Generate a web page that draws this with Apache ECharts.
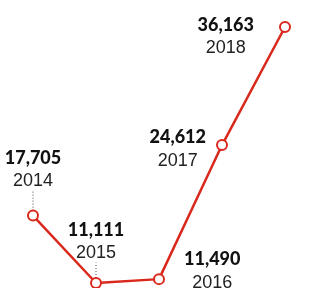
<!DOCTYPE html>
<html>
<head>
<meta charset="utf-8">
<script src="https://cdn.jsdelivr.net/npm/echarts@6/dist/echarts.min.js"></script>
<style>
  html, body { margin: 0; padding: 0; background: #fff; }
  #main { width: 320px; height: 288px; }
</style>
</head>
<body>
<div id="main"></div>
<script>
// 年份
const years = ['2014', '2015', '2016', '2017', '2018'];
// 数值
const counts = [17705, 11111, 11490, 24612, 36163];

const lineColor = '#d9281c';

// label placement per point
const labelPos = [
  { position: 'top', distance: 5, dy: -12, leader: true },
  { position: 'top', distance: 5, dy: -7, leader: true },
  { position: 'right', distance: 19, dy: -8 },
  { position: 'left', distance: 10, dy: 4 },
  { position: 'left', distance: 25, dy: 10 }
];

const chart = echarts.init(document.getElementById('main'));

const seriesData = counts.map((v, i) => {
  const p = labelPos[i];
  return {
    value: v,
    label: { position: p.position, distance: p.distance },
    labelLine: { show: !!p.leader }
  };
});

const option = {
  backgroundColor: '#fff',
  animation: false,
  grid: { left: 33, right: 35, top: 27, bottom: 5 },
  xAxis: {
    type: 'category',
    data: years,
    boundaryGap: false,
    show: false
  },
  yAxis: {
    type: 'value',
    min: Math.min(...counts),
    max: Math.max(...counts),
    show: false
  },
  series: [
    {
      type: 'line',
      data: seriesData,
      symbol: 'circle',
      symbolSize: 10,
      itemStyle: { color: '#fff', borderColor: lineColor, borderWidth: 2 },
      lineStyle: { color: lineColor, width: 2.5 },
      label: {
        show: true,
        formatter: p => '{b|' + p.value.toLocaleString('en-US') + '}\n{y|' + p.name + '}',
        rich: {
          b: { fontFamily: 'Lato', fontWeight: 900, fontSize: 18, color: '#111', align: 'center', lineHeight: 23 },
          y: { fontFamily: '"Liberation Sans Narrow", "Liberation Sans"', fontSize: 18, color: '#222', align: 'center', lineHeight: 23 }
        }
      },
      labelLayout: params => ({ dy: labelPos[params.dataIndex].dy }),
      labelLine: {
        lineStyle: { color: '#444', width: 1, type: [1, 2] }
      }
    }
  ]
};

chart.setOption(option);
</script>
</body>
</html>
